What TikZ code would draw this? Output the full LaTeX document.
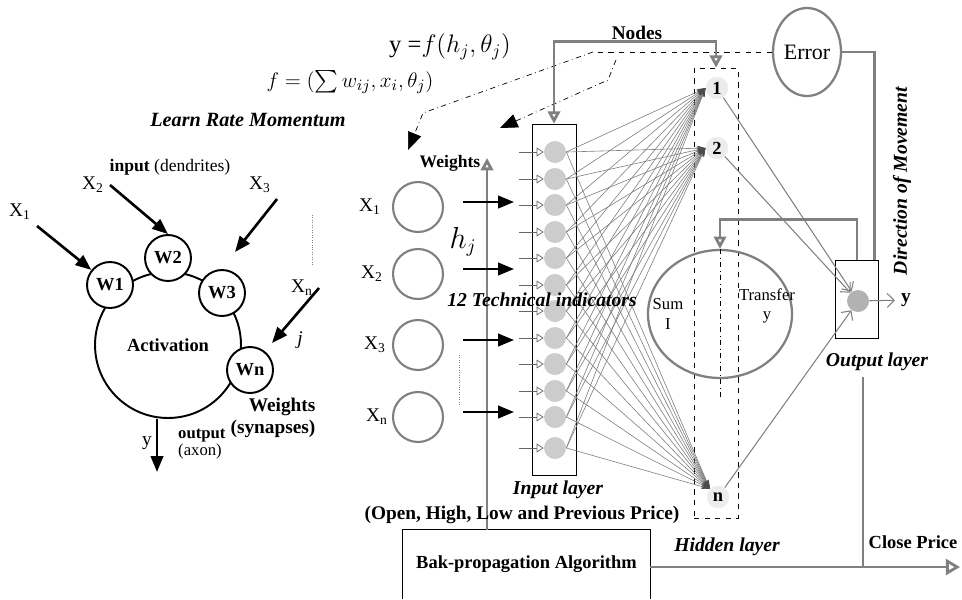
\documentclass[tikz,border=0pt]{standalone}
\usepackage{amsmath,amssymb}
\usepackage{fontspec}
\setmainfont{Liberation Serif}
\usetikzlibrary{arrows.meta,positioning,calc,shapes.geometric}

\newcommand{\fsz}[2]{\fontsize{#1}{#2}\selectfont}

\begin{document}
\begin{tikzpicture}[x=0.02cm, y=-0.02cm, font=\fsz{10}{12},
    wc/.style={circle, draw, line width=1.1pt, fill=white, minimum size=0.92cm, inner sep=0pt, font=\bfseries\fsz{10.5}{12}},
    xin/.style={circle, draw=gray, line width=1.2pt, minimum size=1cm},
    inn/.style={circle, fill=gray!40, minimum size=0.44cm, inner sep=0pt},
    hid/.style={circle, fill=gray!15, minimum size=0.45cm, inner sep=0pt, font=\bfseries\fsz{10.5}{12}},
    gline/.style={draw=gray, line width=1.6pt},
    ghead/.style={-{Triangle[open, length=7pt, width=7pt]}},
    barrow/.style={line width=1.5pt, -{Triangle[length=9pt, width=7pt]}},
    sarrow/.style={draw=black!60, line width=0.4pt, -{Triangle[open, length=4pt, width=5pt]}},
    conn/.style={draw=gray, line width=0.35pt, -{Stealth[length=5pt, width=3pt, color=black!70]}},
    oarrow/.style={draw=gray, line width=0.6pt, -{Straight Barb[length=4pt]}},
    lbl/.style={font=\bfseries\itshape\fsz{11.2}{13}},
    bld/.style={font=\bfseries\fsz{10.5}{12.5}}
]
\useasboundingbox (0,0) rectangle (962,599);

% Formulas
\node[font=\fsz{14}{16}] (fy) at (450,47) {y =$f(h_j,\theta_j)$};
\node[font=\fsz{12.8}{15}] (ff) at (350,82) {$f=(\sum w_{ij},x_i,\theta_j)$};
\node[lbl, font=\bfseries\itshape\fsz{11.5}{13}] (lrm) at (248,120) {Learn Rate Momentum};

% Biological neuron
\node[circle, draw, line width=1.1pt, minimum size=2.92cm, font=\bfseries\fsz{10.5}{12}] (act) at (168,345) {Activation};
\node[wc] (w1) at (110,285) {W1};
\node[wc] (w2) at (168,258) {W2};
\node[wc] (w3) at (222,293) {W3};
\node[wc] (wn) at (250,370) {Wn};
\node[font=\fsz{11}{13}] (x1) at (20,212) {X\textsubscript{1}};
\node[font=\fsz{11}{13}] (x2) at (93,185) {X\textsubscript{2}};
\node[font=\fsz{11}{13}] (x3) at (260,185) {X\textsubscript{3}};
\node[font=\fsz{11}{13}] (xn) at (302,288) {X\textsubscript{n}};
\coordinate (x3e) at (235,252);
\coordinate (xne) at (272,343);
\draw[barrow] (x1.south east) -- (w1);
\draw[barrow] (x2.east) -- (w2.north);
\draw[barrow] (x3.south east) -- (x3e);
\draw[barrow] (xn.east) -- (xne);
\draw[densely dotted, gray] (312,215) -- (312,265);
\node[font=\fsz{10}{12}] (inp) at (170,167) {\textbf{input} (dendrites)};
\node[font=\itshape\fsz{11}{13}] (jj) at (300,340) {j};
\node[bld, font=\bfseries\fsz{11}{12.5}, align=right] (wsyn) at (273,418) {Weights\\(synapses)};
\coordinate (yend) at (157,472);
\draw[barrow] (yend |- act.south) -- (yend);
\node[font=\fsz{11}{13}] (ylab) at (147,443) {y};
\node[font=\fsz{9.5}{10}, align=left, anchor=west] (axon) at (172,444) {\textbf{output}\\(axon)};

% Bak-propagation box
\node[bld, minimum width=4.94cm, minimum height=1.38cm] (bp) at (526.5,564.5) {Bak-propagation Algorithm};
\draw (bp.south west) |- (bp.north east) -- (bp.south east);

% Inputs
\coordinate (wtop) at (487,158);
\draw[gline, ghead] (wtop |- bp.north) -- (wtop);
\node[bld, font=\bfseries\fsz{10}{12}] (wl) at (450,163) {Weights};
\foreach \y/\s/\lx [count=\k] in {207/1/370, 274/2/372, 345/3/375, 417/n/377} {
  \node[xin] (c\k) at (418,\y) {};
  \node[font=\fsz{11}{13}] (l\k) at (\lx,\y) {X\textsubscript{\s}};
  \draw[barrow] (c\k.east) ++(19,-5) -- ++(51,0);
}
\draw[densely dotted, gray] (459,355) -- (459,405);
\node[font=\fsz{16}{18}] (hj) at (463,242) {$h_j$};

% Input layer
\node[draw, thin, minimum width=0.88cm, minimum height=7.02cm, inner sep=0pt] (inbox) at (554,299.5) {};
\foreach \y [count=\k] in {152,179,205,232,258,285,311,338,364,391,417,448} {
  \node[inn] (i\k) at (555,\y) {};
  \draw[sarrow] (i\k.west) ++(-25,0) -- (i\k.west);
}

% Hidden layer
\node[draw, dashed, thin, minimum width=0.88cm, minimum height=9cm, inner sep=0pt] (hbox) at (716,293) {};
\node[ellipse, draw=gray, line width=1.3pt, minimum width=2.88cm, minimum height=2.56cm] (sum) at (720,314) {};
\draw[dash dot, thin] (sum.north) -- ++(0,150);
\node[font=\fsz{9.5}{11}, align=center] (suml) at (668,314) {Sum\\I};
\node[font=\fsz{9.5}{11}, align=center] (trl) at (767,306) {Transfer\\y};
\node[hid] (h1) at (717,88) {1};
\node[hid] (h2) at (717,148) {2};
\node[hid] (hn) at (718,497) {n};
\foreach \k in {1,...,12} {
  \draw[conn] (i\k.east) -- (h1.west);
  \draw[conn] (i\k.east) -- (h2.west);
  \draw[conn] (i\k.east) -- (hn.north west);
}

% Output layer
\node[draw, thin, minimum width=0.86cm, minimum height=1.56cm, inner sep=0pt] (ob) at (857,299) {};
\node[circle, fill=gray!60, minimum size=0.44cm, inner sep=0pt] (on) at (858,301) {};
\node[bld, font=\bfseries\fsz{11}{13}] (yo) at (906,300) {y};
\draw[oarrow] (on) -- (yo);
\foreach \h in {h1,h2,hn} \draw[oarrow] (\h) -- (on);
\draw[gline, ghead] (ob.north) -- ++(0,-40) -| (sum.north);

% Error
\node[ellipse, draw=gray, line width=1.3pt, minimum width=1.36cm, minimum height=1.76cm, inner sep=0pt, font=\fsz{12.5}{14}] (err) at (807,52) {Error};
\draw[gline] (err.east) -| ([xshift=-0.08cm]ob.north east);
\coordinate (dl) at (593,52);
\coordinate (dl2) at (616,60);
\coordinate (wtip) at (408,150);
\coordinate (ntip) at (500,128);
\draw[dashed] (err.west) -- (dl);
\draw[dash dot, -{Triangle[length=10pt, width=8pt]}] (dl) -- (423,113) -- (wtip);
\draw[dash dot, -{Triangle[length=10pt, width=8pt]}] (dl2) -- (608,80) -- (ntip);

% Nodes
\draw[gline, {Triangle[open, length=7pt, width=7pt]}-{Triangle[open, length=7pt, width=7pt]}] (inbox.north) -- ++(0,-82) -| (hbox.north);
\node[bld, font=\bfseries\fsz{11}{13}] (nodes) at (637,33) {Nodes};

% Labels
\node[lbl, rotate=90] (dir) at (902,181) {Direction of Movement};
\node[lbl] (oll) at (877,362) {Output layer};
\coordinate (cp) at (863,567);
\coordinate (cpend) at (960,567);
\draw[gline] (cp |- oll.south) -- (cp);
\draw[gline, -{Triangle[open, length=8pt, width=9pt]}] (bp.east |- cp) -- (cpend);
\node[bld] (clp) at (913,542) {Close Price};
\node[lbl] (hl) at (727,547) {Hidden layer};
\node[lbl] (il) at (558,490) {Input layer};
\node[bld, font=\bfseries\fsz{11}{13}] (ohl) at (522,515) {(Open, High, Low and Previous Price)};
\node[lbl] (ti) at (542,300) {12 Technical indicators};
\end{tikzpicture}
\end{document}
